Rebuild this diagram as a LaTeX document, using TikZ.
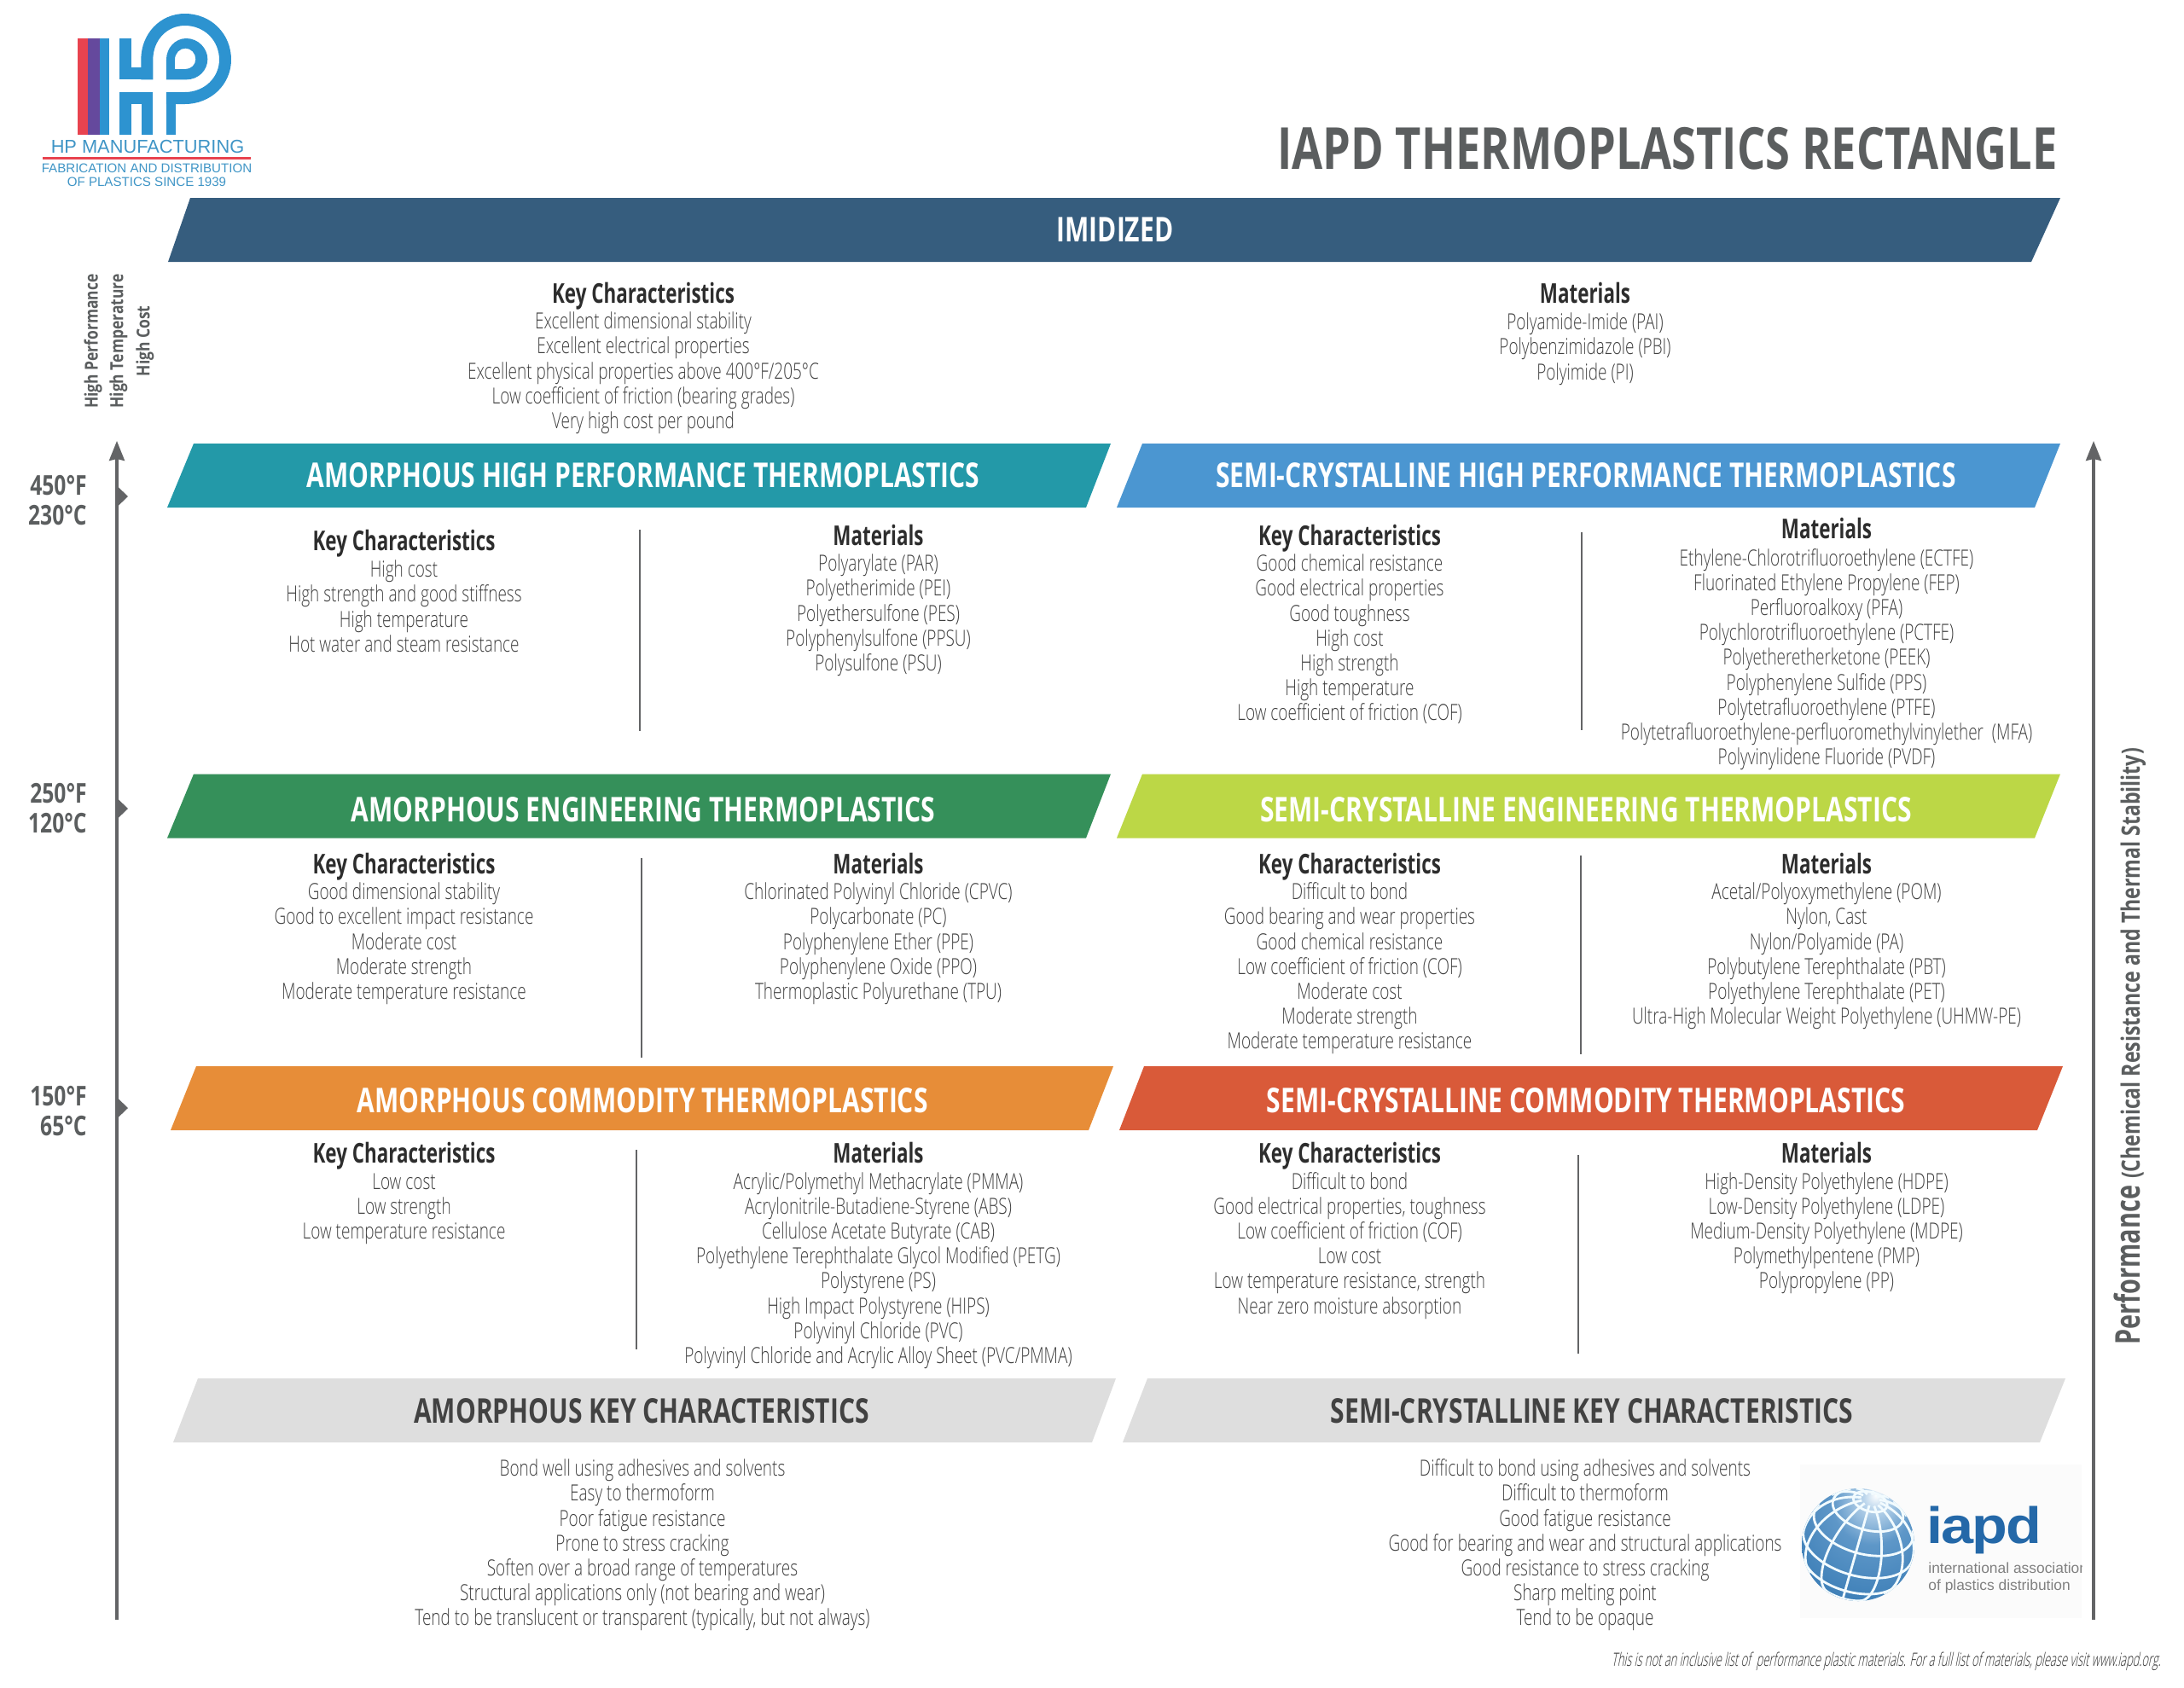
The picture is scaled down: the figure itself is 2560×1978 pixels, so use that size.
\documentclass[tikz,border=0pt]{standalone}
\usepackage{fontspec}
\usetikzlibrary{arrows.meta}
\newfontfamily\bodyf[FakeStretch=0.73]{Open Sans Light}
\newfontfamily\footf[FakeStretch=0.6,FakeSlant=0.2]{Open Sans Light}
\newfontfamily\condf[FakeStretch=0.72]{Open Sans}
\newfontfamily\headf[FakeStretch=0.70]{Open Sans}
\newfontfamily\barf[FakeStretch=0.75]{Open Sans}
\newfontfamily\tempf[FakeStretch=0.77]{Open Sans}
\newfontfamily\perff[FakeStretch=0.78]{Open Sans}
\newfontfamily\sidef[FakeStretch=0.83]{Open Sans}
\newfontfamily\arialf{Liberation Sans}
\newfontfamily\iapdf[FakeStretch=1.14,LetterSpace=-3]{Liberation Sans}
\definecolor{cimid}{HTML}{365D7E}
\definecolor{cteal}{HTML}{2399A8}
\definecolor{cblue}{HTML}{4B96D1}
\definecolor{cgreen}{HTML}{35905A}
\definecolor{clime}{HTML}{BCD746}
\definecolor{corange}{HTML}{E78D38}
\definecolor{cred}{HTML}{D95A39}
\definecolor{cgray}{HTML}{DEDEDE}
\definecolor{ctitle}{HTML}{5B5E5F}
\definecolor{carrow}{HTML}{636466}
\definecolor{cbody}{HTML}{404040}
\definecolor{chead}{HTML}{2D2D2D}
\definecolor{clogo}{HTML}{2D93D0}
\definecolor{clogotext}{HTML}{3F95C6}
\definecolor{clogored}{HTML}{E8434F}
\definecolor{clogopurple}{HTML}{65499D}
\definecolor{ciapd}{HTML}{2468A8}
\definecolor{gl0}{HTML}{FFFFFF}
\definecolor{gl1}{HTML}{BCD6EC}
\definecolor{gl2}{HTML}{5E97C8}
\definecolor{gl3}{HTML}{3579B3}
\definecolor{gl4}{HTML}{2A70AA}
\pgfdeclareradialshading{globesh}{\pgfpoint{8bp}{22bp}}{color(0bp)=(gl0);color(5bp)=(gl1);color(18bp)=(gl2);color(45bp)=(gl3);color(100bp)=(gl4)}
\tikzset{
  bartext/.style={anchor=base,inner sep=0pt,text=white,font={\barf\bfseries\fontsize{20}{22}\selectfont}},
  graytext/.style={bartext,text=chead!90!white},
  bodyblock/.style={anchor=north,inner sep=0pt,align=center,yshift=5.6pt,text=cbody,font={\bodyf\fontsize{13}{14.6}\selectfont}},
  headtext/.style={anchor=base,inner sep=0pt,yshift=-5.1pt,text=chead,font={\headf\bfseries\fontsize{16}{18}\selectfont}},
  divider/.style={draw=carrow,line width=1pt},
  scale arrow/.style={draw=carrow,line width=1.6pt,-{Stealth[length=11.5pt,width=9pt,inset=1pt]}},
  temptext/.style={anchor=base east,inner sep=0pt,text=ctitle,font={\tempf\bfseries\fontsize{16}{18}\selectfont}},
  sidetext/.style={rotate=90,inner sep=0pt,anchor=center,text=ctitle,font={\sidef\bfseries\fontsize{10.5}{11}\selectfont}},
}
\newcommand{\ribbon}[9]{% name,tl,tr,br,bl,top,color,textstyle,cx ; text follows
  \fill[#7] (#2,#6) -- (#3,#6) -- (#4,#6+75) -- (#5,#6+75) -- cycle;
  \node[#8] (#1) at (#9,#6+51)}
\newcommand{\tb}[4]{\node[bodyblock] (#1) at (#2,#3) {\strut #4};}
\newcommand{\hd}[4]{\node[headtext] (#1) at (#2,#3) {#4};}
\newcommand{\mk}[1]{\fill[carrow] (137,#1-12.5) -- (150,#1) -- (137,#1+12.5) -- cycle;}
\begin{document}
\begin{tikzpicture}[x=.5pt,y=-.5pt]
\useasboundingbox (0,0) rectangle (2560,1978);
\fill[white] (0,0) rectangle (2560,1978);
% HP logo
\begin{scope}[x=.5pt/3,y=-.5pt/3]
\fill[clogored] (273,135) rectangle (310,475);
\fill[clogopurple] (310,135) rectangle (350,475);
\fill[clogo] (350,135) rectangle (385,475);
\fill[clogo] (420,135) rectangle (463,280);
\fill[clogo] (420,237) rectangle (538,280);
\fill[clogo] (420,325) rectangle (538,365);
\fill[clogo] (420,365) rectangle (463,475);
\fill[clogo] (497,365) rectangle (538,475);
\fill[clogo] (585,325) rectangle (618,475);
\draw[clogo,line width=7pt] (517,280) -- (517,210) .. controls (517,130) and (575,69) .. (650,69) .. controls (730,69) and (792,130) .. (792,210) .. controls (792,285) and (730,345) .. (650,345) -- (585,345);
\fill[clogo,even odd rule] (585,280) -- (585,210) .. controls (585,170) and (615,135) .. (655,135) .. controls (697,135) and (730,170) .. (730,208) .. controls (730,248) and (697,280) .. (655,280) -- cycle
 (615,243) -- (615,210) .. controls (615,187) and (632,170) .. (652,170) .. controls (672,170) and (688,187) .. (688,208) .. controls (688,228) and (672,243) .. (652,243) -- cycle;
\fill[clogored] (150,553) rectangle (883,562);
\end{scope}
\node[inner sep=0pt,text=clogotext,font={\arialf\fontsize{10.9}{12}\selectfont}] (hpname) at (173,172) {HP MANUFACTURING};
\node[inner sep=0pt,text=clogotext,font={\arialf\fontsize{7.55}{9}\selectfont}] (hpsub1) at (172,197) {FABRICATION AND DISTRIBUTION};
\node[inner sep=0pt,text=clogotext,font={\arialf\fontsize{7.55}{9}\selectfont}] (hpsub2) at (172,213) {OF PLASTICS SINCE 1939};
% title
\node[anchor=base east,inner sep=0pt,text=ctitle,font={\tempf\bfseries\fontsize{34}{36}\selectfont}] (title) at (2412,198) {IAPD THERMOPLASTICS RECTANGLE};
% ribbons
\ribbon{imid}{223}{2415}{2381}{197}{232}{cimid}{bartext}{1307} {IMIDIZED};
\ribbon{ahp}{227}{1302}{1273}{196}{520}{cteal}{bartext}{754} {AMORPHOUS HIGH PERFORMANCE THERMOPLASTICS};
\ribbon{shp}{1339}{2415}{2385}{1309}{520}{cblue}{bartext}{1859} {SEMI-CRYSTALLINE HIGH PERFORMANCE THERMOPLASTICS};
\ribbon{aeng}{227}{1302}{1273}{196}{907.5}{cgreen}{bartext,yshift=-2.5pt}{754} {AMORPHOUS ENGINEERING THERMOPLASTICS};
\ribbon{seng}{1339}{2415}{2385}{1309}{907.5}{clime}{bartext,yshift=-2.5pt}{1859} {SEMI-CRYSTALLINE ENGINEERING THERMOPLASTICS};
\ribbon{acom}{230}{1305}{1276}{200}{1250}{corange}{bartext,yshift=-1.5pt}{753} {AMORPHOUS COMMODITY THERMOPLASTICS};
\ribbon{scom}{1341}{2418}{2388}{1312}{1250}{cred}{bartext,yshift=-1.5pt}{1859} {SEMI-CRYSTALLINE COMMODITY THERMOPLASTICS};
\ribbon{akey}{232}{1308}{1280}{203}{1616}{cgray}{graytext,yshift=-.5pt}{752} {AMORPHOUS KEY CHARACTERISTICS};
\ribbon{skey}{1345}{2421}{2391}{1316}{1616}{cgray}{graytext,yshift=-.5pt}{1866} {SEMI-CRYSTALLINE KEY CHARACTERISTICS};
% imidized
\hd{h1}{754}{345}{Key Characteristics}
\tb{t1}{754}{376}{Excellent dimensional stability\\Excellent electrical properties\\Excellent physical properties above 400°F/205°C\\Low coefficient of friction (bearing grades)\\Very high cost per pound}
\hd{h2}{1858}{345}{Materials}
\tb{t2}{1858}{377}{Polyamide-Imide (PAI)\\Polybenzimidazole (PBI)\\Polyimide (PI)}
% amorphous HP
\hd{h3}{473.5}{635}{Key Characteristics}
\tb{t3}{473.5}{667}{High cost\\High strength and good stiffness\\High temperature\\Hot water and steam resistance}
\hd{h4}{1029.5}{629.5}{Materials}
\tb{t4}{1029.5}{660}{Polyarylate (PAR)\\Polyetherimide (PEI)\\Polyethersulfone (PES)\\Polyphenylsulfone (PPSU)\\Polysulfone (PSU)}
% semi HP
\hd{h5}{1582}{629.5}{Key Characteristics}
\tb{t5}{1582}{660}{Good chemical resistance\\Good electrical properties\\Good toughness\\High cost\\High strength\\High temperature\\Low coefficient of friction (COF)}
\hd{h6}{2141}{621}{Materials}
\tb{t6}{2141}{653.5}{Ethylene-Chlorotrifluoroethylene (ECTFE)\\Fluorinated Ethylene Propylene (FEP)\\Perfluoroalkoxy (PFA)\\Polychlorotrifluoroethylene (PCTFE)\\Polyetheretherketone (PEEK)\\Polyphenylene Sulfide (PPS)\\Polytetrafluoroethylene (PTFE)\\Polytetrafluoroethylene-perfluoromethylvinylether~~(MFA)\\Polyvinylidene Fluoride (PVDF)}
% amorphous engineering
\hd{h7}{473.5}{1014}{Key Characteristics}
\tb{t7}{473.5}{1045}{Good dimensional stability\\Good to excellent impact resistance\\Moderate cost\\Moderate strength\\Moderate temperature resistance}
\hd{h8}{1029.5}{1014}{Materials}
\tb{t8}{1029.5}{1045}{Chlorinated Polyvinyl Chloride (CPVC)\\Polycarbonate (PC)\\Polyphenylene Ether (PPE)\\Polyphenylene Oxide (PPO)\\Thermoplastic Polyurethane (TPU)}
% semi engineering
\hd{h9}{1582}{1014}{Key Characteristics}
\tb{t9}{1582}{1045}{Difficult to bond\\Good bearing and wear properties\\Good chemical resistance\\Low coefficient of friction (COF)\\Moderate cost\\Moderate strength\\Moderate temperature resistance}
\hd{h10}{2141}{1014}{Materials}
\tb{t10}{2141}{1045}{Acetal/Polyoxymethylene (POM)\\Nylon, Cast\\Nylon/Polyamide (PA)\\Polybutylene Terephthalate (PBT)\\Polyethylene Terephthalate (PET)\\Ultra-High Molecular Weight Polyethylene (UHMW-PE)}
% amorphous commodity
\hd{h11}{473.5}{1353}{Key Characteristics}
\tb{t11}{473.5}{1384.5}{Low cost\\Low strength\\Low temperature resistance}
\hd{h12}{1029.5}{1353}{Materials}
\tb{t12}{1029.5}{1384.5}{Acrylic/Polymethyl Methacrylate (PMMA)\\Acrylonitrile-Butadiene-Styrene (ABS)\\Cellulose Acetate Butyrate (CAB)\\Polyethylene Terephthalate Glycol Modified (PETG)\\Polystyrene (PS)\\High Impact Polystyrene (HIPS)\\Polyvinyl Chloride (PVC)\\Polyvinyl Chloride and Acrylic Alloy Sheet (PVC/PMMA)}
% semi commodity
\hd{h13}{1582}{1353}{Key Characteristics}
\tb{t13}{1582}{1384.5}{Difficult to bond\\Good electrical properties, toughness\\Low coefficient of friction (COF)\\Low cost\\Low temperature resistance, strength\\Near zero moisture absorption}
\hd{h14}{2141}{1353}{Materials}
\tb{t14}{2141}{1384.5}{High-Density Polyethylene (HDPE)\\Low-Density Polyethylene (LDPE)\\Medium-Density Polyethylene (MDPE)\\Polymethylpentene (PMP)\\Polypropylene (PP)}
% bottom lists
\tb{t15}{753}{1721}{Bond well using adhesives and solvents\\Easy to thermoform\\Poor fatigue resistance\\Prone to stress cracking\\Soften over a broad range of temperatures\\Structural applications only (not bearing and wear)\\Tend to be translucent or transparent (typically, but not always)}
\tb{t16}{1858}{1721}{Difficult to bond using adhesives and solvents\\Difficult to thermoform\\Good fatigue resistance\\Good for bearing and wear and structural applications\\Good resistance to stress cracking\\Sharp melting point\\Tend to be opaque}
% dividers
\coordinate (d1a) at (750,621); \coordinate (d1b) at (750,857);
\coordinate (d2a) at (1854,624); \coordinate (d2b) at (1854,856);
\coordinate (d3a) at (752,1006); \coordinate (d3b) at (752,1240);
\coordinate (d4a) at (1853,1003); \coordinate (d4b) at (1853,1236);
\coordinate (d5a) at (746,1348); \coordinate (d5b) at (746,1582);
\coordinate (d6a) at (1850,1354); \coordinate (d6b) at (1850,1587);
\foreach \k in {1,...,6} {\draw[divider] (d\k a) -- (d\k b);}
% axes
\coordinate (la) at (137,1899); \coordinate (lb) at (137,517);
\coordinate (ra) at (2454,1899); \coordinate (rb) at (2454,517);
\draw[scale arrow] (la) -- (lb);
\draw[scale arrow] (ra) -- (rb);
\mk{582}\mk{948}\mk{1299}
\node[temptext] (f1) at (102,580) {450°F};
\node[temptext] (c1) at (102,615) {230°C};
\node[temptext] (f2) at (102,941) {250°F};
\node[temptext] (c2) at (102,976) {120°C};
\node[temptext] (f3) at (102,1296) {150°F};
\node[temptext] (c3) at (102,1331) {65°C};
\node[sidetext] (s1) at (109,400) {High Performance};
\node[sidetext] (s2) at (139,400) {High Temperature};
\node[sidetext] (s3) at (170,400) {High Cost};
\node[rotate=90,anchor=base west,inner sep=0pt,text=ctitle,font={\condf\bfseries\fontsize{20}{22}\selectfont}] (perf) at (2508,1577) {Performance\hspace{4pt}{\perff\bfseries\fontsize{14.8}{16}\selectfont(Chemical Resistance and Thermal Stability)}};
% footer
\node[anchor=base east,inner sep=0pt,text=chead,font={\footf\fontsize{10.75}{12}\selectfont}] (foot) at (2533,1953) {This is not an inclusive list of ~performance plastic materials. For a full list of materials, please visit www.iapd.org.};
% iapd logo
\fill[white!98.5!black] (2110,1717) rectangle (2440,1897);
\shade[shading=globesh] (2178,1811) circle[radius=33pt];
\begin{scope}
\clip (2178,1811) circle[radius=33pt];
\foreach \l in {0,30,...,330} {
  \pgfmathsetmacro{\A}{cos(\l)*0.835}
  \pgfmathsetmacro{\dl}{atan2(0.55,\A)-90}
  \draw[white!95!cyan,line width=1.4pt,domain=\dl:80,samples=30,smooth,variable=\t]
    plot ({2178+66*(cos(\t)*(cos(\l)*(-0.1495)+sin(\l)*(-0.962))+sin(\t)*0.227)},
          {1811+66*(cos(\t)*(cos(\l)*0.529+sin(\l)*(-0.272))+sin(\t)*(-0.803))});
}
\foreach \p in {-50,-25,0,25,50,72} {
  \pgfmathsetmacro{\q}{-tan(\p)*0.659}
  \pgfmathsetmacro{\q}{min(1,max(-1,\q))}
  \pgfmathsetmacro{\lm}{acos(\q)}
  \draw[white!95!cyan,line width=1.4pt,domain=-\lm:\lm,samples=60,smooth,variable=\t]
    plot ({2178+66*(cos(\p)*(cos(\t)*(-0.1495)+sin(\t)*(-0.962))+sin(\p)*0.227)},
          {1811+66*(cos(\p)*(cos(\t)*0.529+sin(\t)*(-0.272))+sin(\p)*(-0.803))});
}
\end{scope}
\node[anchor=base west,inner sep=0pt,text=ciapd,font={\iapdf\bfseries\fontsize{30}{32}\selectfont}] (iapd) at (2258,1809) {iapd};
\begin{scope}
\clip (2250,1825) rectangle (2440,1875);
\node[anchor=base west,inner sep=0pt,text=black!50,font={\arialf\fontsize{8.7}{10}\selectfont}] (iapd1) at (2260,1844) {international association};
\end{scope}
\node[anchor=base west,inner sep=0pt,text=black!50,font={\arialf\fontsize{8.7}{10}\selectfont}] (iapd2) at (2260,1864) {of plastics distribution};
\end{tikzpicture}
\end{document}
